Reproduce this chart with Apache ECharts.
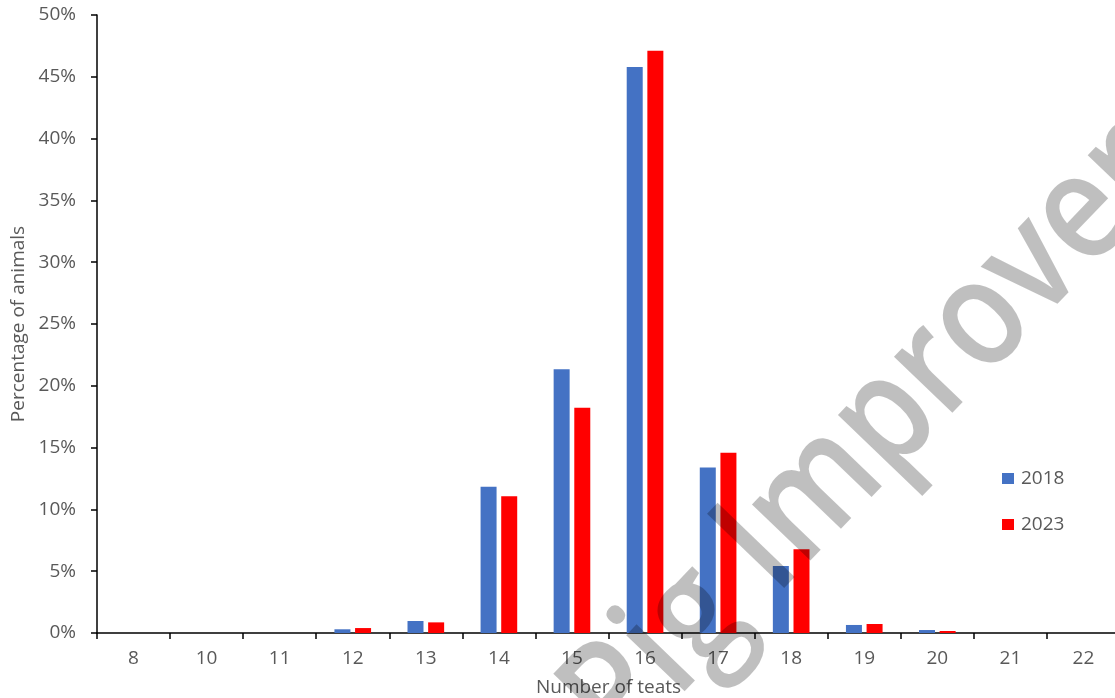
<!DOCTYPE html>
<html>
<head>
<meta charset="utf-8">
<script src="https://cdn.jsdelivr.net/npm/echarts@6/dist/echarts.min.js"></script>
<style>
html,body{margin:0;padding:0;background:#fff;}
#chart{width:1115px;height:698px;}
</style>
</head>
<body>
<div id="chart"></div>
<script>
const categories = ['8','10','11','12','13','14','15','16','17','18','19','20','21','22'];
const series2018 = [0, 0, 0, 0.3, 0.97, 11.84, 21.33, 45.8, 13.4, 5.42, 0.65, 0.24, 0, 0];
const series2023 = [0, 0, 0, 0.4, 0.86, 11.06, 18.23, 47.1, 14.59, 6.77, 0.73, 0.16, 0, 0];
const seriesNames = ['2018', '2023'];
const yTicks = [0, 5, 10, 15, 20, 25, 30, 35, 40, 45, 50];

const FONT = '"Open Sans", "Noto Sans", sans-serif';
const chart = echarts.init(document.getElementById('chart'), null, {renderer: 'canvas'});
chart.setOption({
  animation: false,
  backgroundColor: '#ffffff',
  grid: {left: 97, top: 15, bottom: 65, right: -5, containLabel: false, outerBoundsMode: 'none'},
  legend: {
    orient: 'vertical',
    left: 997,
    top: 464,
    itemWidth: 12,
    itemHeight: 11,
    itemGap: 27,
    icon: 'rect',
    data: seriesNames,
    textStyle: {color: '#595959', fontSize: 19, fontFamily: FONT, padding: [0, 0, 0, 2]}
  },
  xAxis: {
    type: 'category',
    data: categories,
    name: 'Number of teats',
    nameLocation: 'middle',
    nameGap: 45,
    nameTextStyle: {color: '#595959', fontSize: 19, fontFamily: FONT},
    axisLine: {lineStyle: {color: '#000', width: 1.5}},
    axisTick: {show: true, length: 6, lineStyle: {color: '#000', width: 1.5}},
    axisLabel: {color: '#595959', fontSize: 19, fontFamily: FONT, margin: 16}
  },
  yAxis: {
    type: 'value',
    min: yTicks[0],
    max: yTicks[yTicks.length - 1],
    interval: 5,
    name: 'Percentage of animals',
    nameLocation: 'middle',
    nameGap: 65,
    nameTextStyle: {color: '#595959', fontSize: 19, fontFamily: FONT},
    splitLine: {show: false},
    axisLine: {show: true, lineStyle: {color: '#000', width: 1.5}},
    axisTick: {show: true, length: 6, lineStyle: {color: '#000', width: 1.5}},
    axisLabel: {color: '#595959', fontSize: 19, fontFamily: FONT, margin: 21, formatter: v => v + '%'}
  },
  series: [
    {name: seriesNames[0], type: 'bar', data: series2018, barWidth: 16, barGap: '29%',
     itemStyle: {color: '#4472C4'}},
    {name: seriesNames[1], type: 'bar', data: series2023, barWidth: 16, barGap: '29%',
     itemStyle: {color: '#FF0000'}}
  ],
  graphic: [{
    type: 'text',
    x: 869, y: 438,
    rotation: 0.805,
    scaleX: 0.866,
    z: 100,
    silent: true,
    style: {
      text: 'Pig Improver',
      font: '600 150px ' + FONT,
      fill: 'rgba(0,0,0,0.25)',
      align: 'center',
      verticalAlign: 'middle'
    }
  }]
});
</script>
</body>
</html>
